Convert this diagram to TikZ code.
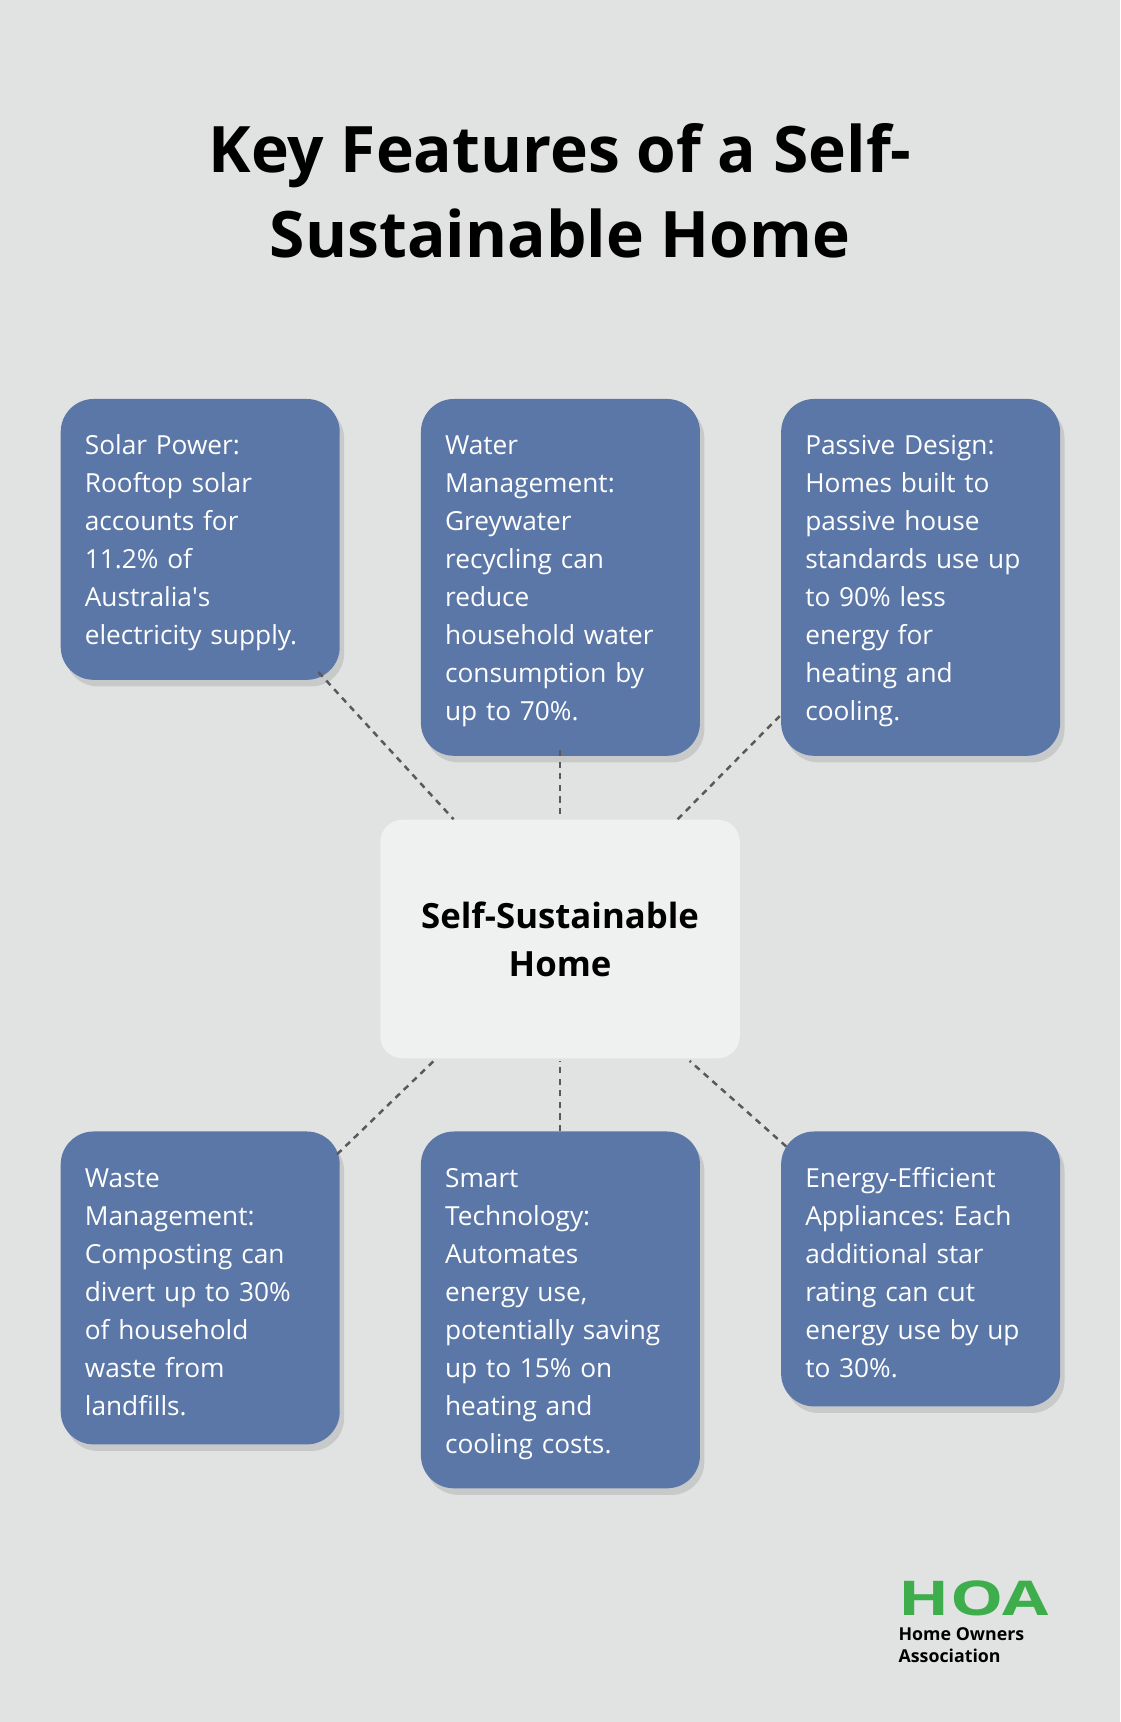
\documentclass[tikz,border=0pt]{standalone}
\usepackage{fontspec}
\setmainfont{Open Sans}
\usepackage{tikz}
\usetikzlibrary{positioning,shadows}
\frenchspacing
\definecolor{bgcol}{HTML}{E0E3E2}
\definecolor{boxcol}{HTML}{5B77A8}
\definecolor{hubcol}{HTML}{EFF1F0}
\definecolor{logocol}{HTML}{3DAE4B}
\tikzset{
  feature/.style={draw=none, fill=boxcol, rounded corners=0.75cm, text=white, anchor=north west,
    align=left, text width=5.25cm, inner xsep=0.55cm, inner ysep=0.66cm,
    font=\fontsize{17}{24.6}\selectfont, drop shadow={opacity=0.25, shadow xshift=0.1cm, shadow yshift=-0.15cm}},
  hub/.style={fill=hubcol, rounded corners=0.5cm, minimum width=8.18cm, minimum height=5.43cm,
    align=center, font=\fontsize{22.5}{31}\selectfont\bfseries},
  link/.style={draw=black!65, dash pattern=on 4pt off 3.5pt, line width=1.6pt}
}
\begin{document}
\begin{tikzpicture}[x=0.025cm, y=-0.025cm]
\fill[bgcol] (0,0) rectangle (1020,1568);
\useasboundingbox (0,0) rectangle (1020,1568);
% title
\node (Title) at (510,174) [align=center, font=\fontsize{41.5}{55}\selectfont\bfseries] {Key Features of a Self-\\Sustainable Home};
% hub
\node[hub] (Hub) at (510,855) {Self-Sustainable\\Home};
% feature boxes
\node[feature] (Solar) at (55,363) {\strut Solar Power:\\Rooftop solar\\accounts for\\11.2\% of\\Australia\textquotesingle s\\electricity supply.};
\node[feature] (Water) at (383,363) {\strut Water\\Management:\\Greywater\\recycling can\\reduce\\household water\\consumption by\\up to 70\%.};
\node[feature] (Passive) at (711,363) {\strut Passive Design:\\Homes built to\\passive house\\standards use up\\to 90\% less\\energy for\\heating and\\cooling.};
\node[feature] (Waste) at (55,1030) {\strut Waste\\Management:\\Composting can\\divert up to 30\%\\of household\\waste from\\landfills.};
\node[feature] (Smart) at (383,1030) {\strut Smart\\Technology:\\Automates\\energy use,\\potentially saving\\up to 15\% on\\heating and\\cooling costs.};
\node[feature] (Energy) at (711,1030) {\strut Energy-Efficient\\Appliances: Each\\additional star\\rating can cut\\energy use by up\\to 30\%.};
% connector ends
\coordinate (SolarEnd) at (290,612);  \coordinate (HubA) at (413,746);
\coordinate (WaterEnd) at (510,683);  \coordinate (HubB) at (510,746);
\coordinate (PassiveEnd) at (710,652); \coordinate (HubC) at (617,746);
\coordinate (WasteEnd) at (307,1051); \coordinate (HubD) at (395,966);
\coordinate (SmartEnd) at (510,1030); \coordinate (HubE) at (510,966);
\coordinate (EnergyEnd) at (716,1044); \coordinate (HubF) at (628,966);
\draw[link] (SolarEnd) -- (HubA);
\draw[link] (WaterEnd) -- (HubB);
\draw[link] (PassiveEnd) -- (HubC);
\draw[link] (WasteEnd) -- (HubD);
\draw[link] (SmartEnd) -- (HubE);
\draw[link] (EnergyEnd) -- (HubF);
% logo
\node (Logo) at (818,1455) [anchor=west, inner sep=0, text=logocol, font=\fontsize{31}{31}\selectfont\bfseries, xscale=1.4] {HOA};
\node (LogoText) at (818,1498) [anchor=west, inner sep=0, align=left, font=\fontsize{11.5}{14.5}\selectfont\bfseries] {Home Owners\\Association};
\end{tikzpicture}
\end{document}
